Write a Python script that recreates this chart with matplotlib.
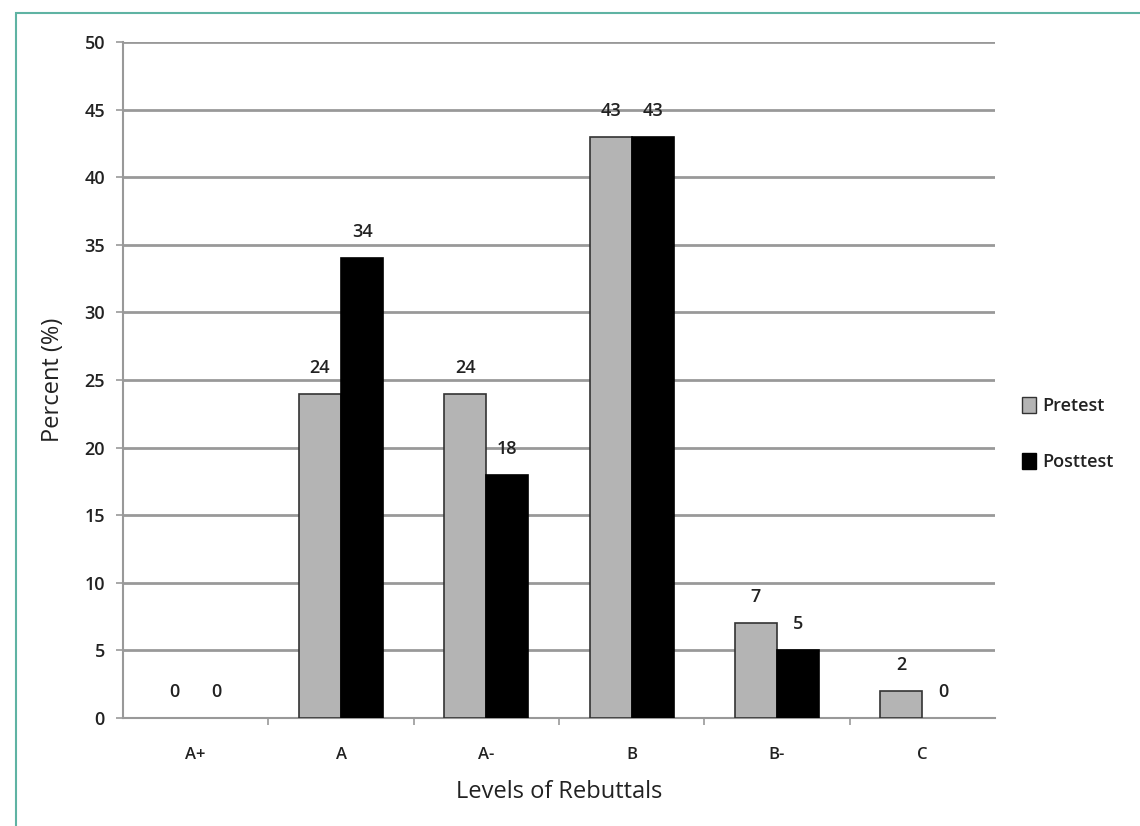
import matplotlib.pyplot as plt
import numpy as np
from matplotlib.patches import Rectangle, Patch

# Dados
niveis = ['A+', 'A', 'A-', 'B', 'B-', 'C']
pretest = [0, 24, 24, 43, 7, 2]
posttest = [0, 34, 18, 43, 5, 0]

plt.rcParams['font.family'] = ['Open Sans', 'DejaVu Sans']

cor_pre = '#b4b4b4'
fig = plt.figure(figsize=(11.4, 8.26), dpi=100)
ax = fig.add_axes([123 / 1140, 1 - 718 / 826, 872 / 1140, 676 / 826])

x = np.arange(len(niveis))
w = 0.29
b1 = ax.bar(x - w / 2, pretest, w, color=cor_pre, edgecolor='#333333', linewidth=1.2, zorder=3)
b2 = ax.bar(x + w / 2, posttest, w, color='black', edgecolor='black', linewidth=1.2, zorder=3)

for barras, vals in [(b1, pretest), (b2, posttest)]:
    for r, v in zip(barras, vals):
        if v == 0:
            r.set_visible(False)  # barras zeradas não aparecem no original
        ax.annotate(str(v), (r.get_x() + r.get_width() / 2, v), xytext=(0, 26),
                    textcoords='offset pixels', ha='center', va='center',
                    fontsize=13, fontweight='semibold', color='#222222')

ax.set_xlim(-0.5, len(niveis) - 0.5)
ax.set_ylim(0, 50)
ax.set_yticks(range(0, 51, 5))
ax.set_xticks(x)
ax.set_xticklabels(niveis)
ax.set_xticks(np.arange(0.5, len(niveis) - 0.5, 1), minor=True)
ax.tick_params(axis='x', which='major', length=0, pad=21, labelsize=12)
ax.tick_params(axis='x', which='minor', length=5, color='#999999', width=1.2)
ax.tick_params(axis='y', length=5, color='#999999', width=1.2, labelsize=13, pad=8)
for lab in ax.get_xticklabels() + ax.get_yticklabels():
    lab.set_fontweight('semibold')
    lab.set_color('#222222')

ax.yaxis.grid(True, color='#999999', linewidth=2, zorder=0)
for s in ['top', 'right']:
    ax.spines[s].set_visible(False)
for s in ['left', 'bottom']:
    ax.spines[s].set_color('#999999')
    ax.spines[s].set_linewidth(1.5)

ax.set_xlabel('Levels of Rebuttals', fontsize=17, color='#222222', labelpad=12)
ax.set_ylabel('Percent (%)', fontsize=17, color='#222222', labelpad=14)

handles = [Patch(facecolor=cor_pre, edgecolor='#333333', label='Pretest'),
           Patch(facecolor='black', edgecolor='black', label='Posttest')]
leg = ax.legend(handles=handles, loc='center left', bbox_to_anchor=(1.012, 0.42), frameon=False,
                fontsize=13, handlelength=0.8, handleheight=1.0, handletextpad=0.35,
                labelspacing=2.1)
for t in leg.get_texts():
    t.set_fontweight('semibold')
    t.set_color('#222222')

# moldura verde em volta da figura
fig.patches.append(Rectangle((16 / 1140, -0.01), 1.1, 1 - 13 / 826 + 0.01,
                             transform=fig.transFigure, fill=False,
                             edgecolor='#5fb3a3', linewidth=1.5))

plt.savefig('out.png', dpi=100)
plt.close()
